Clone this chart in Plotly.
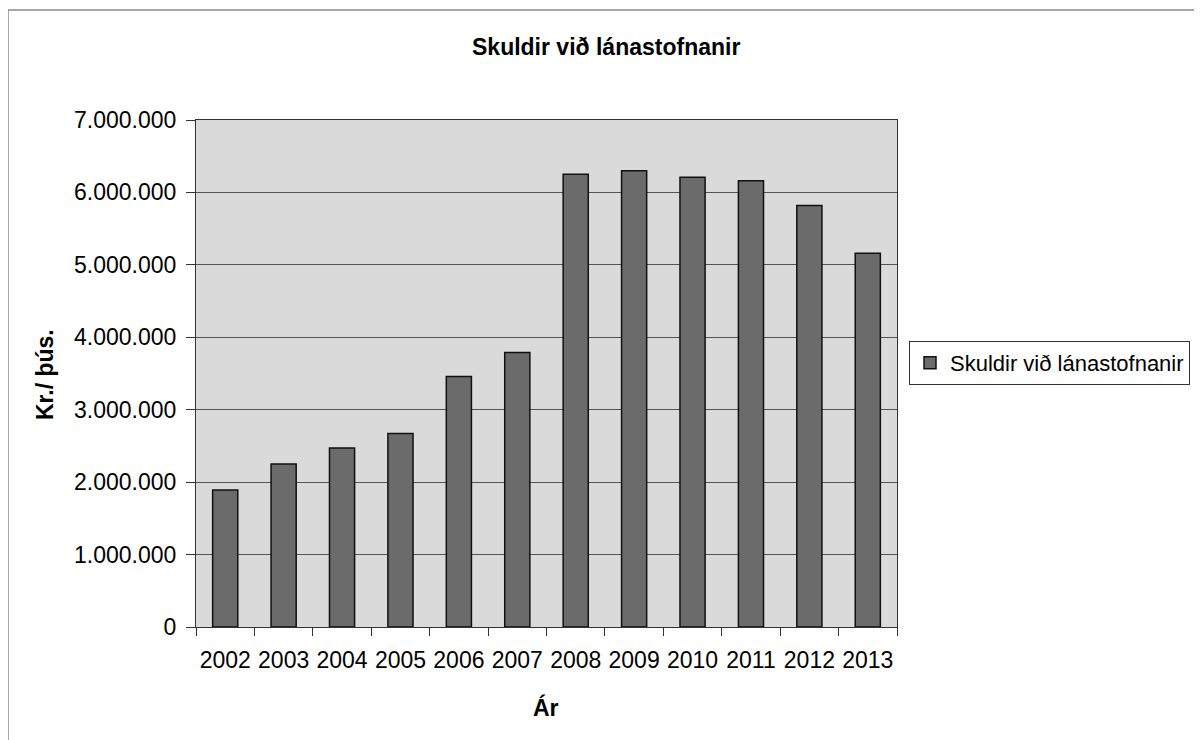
import plotly.graph_objects as go

years = ["2002", "2003", "2004", "2005", "2006", "2007",
         "2008", "2009", "2010", "2011", "2012", "2013"]
debt = [1890000, 2250000, 2470000, 2670000, 3460000, 3790000,
        6250000, 6300000, 6210000, 6160000, 5820000, 5160000]
y_tick_vals = [0, 1000000, 2000000, 3000000, 4000000, 5000000, 6000000, 7000000]
y_tick_text = ["0", "1.000.000", "2.000.000", "3.000.000", "4.000.000",
               "5.000.000", "6.000.000", "7.000.000"]
series_name = "Skuldir við lánastofnanir"
chart_title = "Skuldir við lánastofnanir"
x_title = "Ár"
y_title = "Kr./ þús."

FONT = "Liberation Sans, Arial, sans-serif"

fig = go.Figure()
fig.add_trace(go.Bar(
    x=years, y=debt, name=series_name,
    marker=dict(color="#6b6b6b", line=dict(color="#111111", width=1.5)),
    showlegend=True,
))

W, H = 1202, 740
OFF = 8  # page body margin
# plot area in screen pixels
L, R, T, B = 196, 897, 120, 627
pw, ph = R - L, B - T

def px(x):
    return (x - L) / pw

def py(y):
    return (B - y) / ph

fig.update_layout(
    width=W, height=H,
    margin=dict(l=L - OFF, r=W - (R - OFF), t=T - OFF, b=H - (B - OFF), pad=0),
    paper_bgcolor="white",
    plot_bgcolor="#dadada",
    bargap=0.57,
    font=dict(family=FONT, size=23, color="black"),
    showlegend=True,
    legend=dict(
        x=px(909), y=py(363), xanchor="left", yanchor="middle",
        bordercolor="#333333", borderwidth=1, bgcolor="white",
        font=dict(family=FONT, size=22, color="black"),
        itemwidth=30, tracegroupgap=0,
    ),
    xaxis=dict(
        type="category",
        showline=True, linecolor="#333333", linewidth=1, mirror=True,
        ticks="outside", ticklen=8, tickcolor="#333333", tickson="boundaries",
        tickangle=0, ticklabelstandoff=12,
        tickfont=dict(family=FONT, size=23, color="black"),
        showgrid=False,
    ),
    yaxis=dict(
        range=[0, 7000000],
        tickvals=y_tick_vals, ticktext=y_tick_text,
        showline=True, linecolor="#333333", linewidth=1, mirror=True,
        ticks="outside", ticklen=9, tickcolor="#333333", ticklabelstandoff=5,
        tickfont=dict(family=FONT, size=23, color="black"),
        showgrid=True, gridcolor="#555555", gridwidth=1,
        zeroline=False,
    ),
    annotations=[
        dict(text="<b>" + chart_title + "</b>", xref="paper", yref="paper",
             x=px(606), y=py(47), xanchor="center", yanchor="middle",
             showarrow=False, font=dict(family=FONT, size=23, color="black")),
        dict(text="<b>" + x_title + "</b>", xref="paper", yref="paper",
             x=px(546), y=py(707), xanchor="center", yanchor="middle",
             showarrow=False, font=dict(family=FONT, size=23, color="black")),
        dict(text="<b>" + y_title + "</b>", xref="paper", yref="paper",
             x=px(45), y=py(375), xanchor="center", yanchor="middle",
             textangle=-90,
             showarrow=False, font=dict(family=FONT, size=23, color="black")),
    ],
    shapes=[
        dict(type="rect", xref="paper", yref="paper",
             x0=px(8), x1=px(1199), y0=py(760), y1=py(10),
             line=dict(color="#8a8a8a", width=1.5), fillcolor="rgba(0,0,0,0)",
             layer="below"),
    ],
)

fig.write_html("out.html")
